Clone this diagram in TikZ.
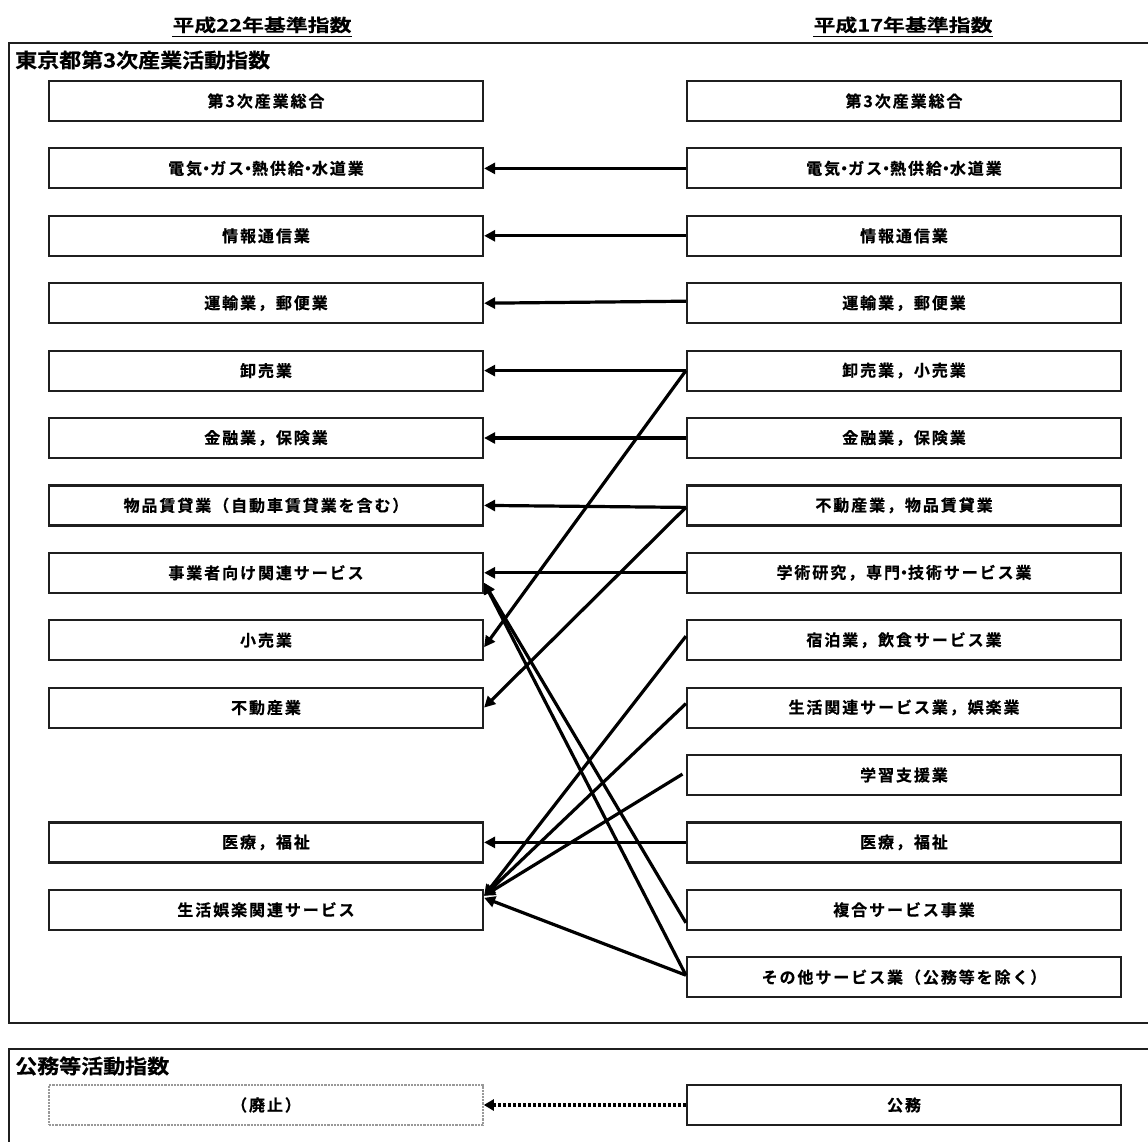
\documentclass[tikz,border=0pt]{standalone}
\usepackage{fontspec}
\usetikzlibrary{arrows.meta}
\newfontfamily\jpl{Noto Sans CJK JP Bold}[LetterSpace=12, FakeBold=0.5]
\newfontfamily\jpt{Noto Sans CJK JP Bold}[FakeStretch=1.1, FakeBold=0.5]
\newfontfamily\jph{Noto Sans CJK JP Bold}[FakeStretch=1.25, FakeBold=0.4]
\newcommand\nakaten{{\addfontfeatures{RawFeature=+palt}・}}
\begin{document}
\begin{tikzpicture}[x=1pt,y=-1pt,
  box/.style={draw=black!88, line width=2.2pt, minimum width=434pt, minimum height=40pt, inner sep=0pt,
    font=\jpl\fontsize{16}{18}\selectfont},
  gonebox/.style={box, draw=gray!80, densely dotted, line width=1.6pt},
  conn/.style={line width=3.2pt, -{Triangle[length=11pt,width=11pt]}},
  dotconn/.style={line width=4pt, dash pattern=on 2.6pt off 2.4pt, -{Triangle[length=10pt,width=11pt]}},
  frame/.style={line width=2.5pt, draw=black!88},
  title/.style={anchor=west, inner sep=0pt, font=\jpt\fontsize{20}{22}\selectfont},
  head/.style={inner sep=0pt, font=\jph\fontsize{17.5}{19}\selectfont}]
\useasboundingbox (0,0) rectangle (1148,1142);
\clip (0,0) rectangle (1148,1142);

% headers
\node[head] (h22) at (262,25) {平成22年基準指数};
\node[head] (h17) at (903,25) {平成17年基準指数};
\draw[line width=1.3pt] ([yshift=-3pt]h22.south west) -- ([yshift=-3pt]h22.south east);
\draw[line width=1.3pt] ([yshift=-3pt]h17.south west) -- ([yshift=-3pt]h17.south east);

% frames
\draw[frame] (1170,43) -| (9,1023) -- (1170,1023);
\draw[frame] (1170,1049) -| (9,1170);
\node[title] (t1) at (15,60) {東京都第3次産業活動指数};
\node[title] (t2) at (15,1066) {公務等活動指数};

% left column (H22)
\node[box] (l0)  at (266,101.0) {第3次産業総合};
\node[box] (l1)  at (266,168.4) {電気\nakaten ガス\nakaten 熱供給\nakaten 水道業};
\node[box] (l2)  at (266,235.8) {情報通信業};
\node[box] (l3)  at (266,303.2) {運輸業，郵便業};
\node[box] (l4)  at (266,370.6) {卸売業};
\node[box] (l5)  at (266,438.0) {金融業，保険業};
\node[box] (l6)  at (266,505.4) {物品賃貸業（自動車賃貸業を含む）};
\node[box] (l7)  at (266,572.8) {事業者向け関連サービス};
\node[box] (l8)  at (266,640.2) {小売業};
\node[box] (l9)  at (266,707.6) {不動産業};
\node[box] (l11) at (266,842.4) {医療，福祉};
\node[box] (l12) at (266,909.8) {生活娯楽関連サービス};
\node[gonebox] (l14) at (266,1105) {（廃止）};

% right column (H17)
\node[box] (r0)  at (904,101.0) {第3次産業総合};
\node[box] (r1)  at (904,168.4) {電気\nakaten ガス\nakaten 熱供給\nakaten 水道業};
\node[box] (r2)  at (904,235.8) {情報通信業};
\node[box] (r3)  at (904,303.2) {運輸業，郵便業};
\node[box] (r4)  at (904,370.6) {卸売業，小売業};
\node[box] (r5)  at (904,438.0) {金融業，保険業};
\node[box] (r6)  at (904,505.4) {不動産業，物品賃貸業};
\node[box] (r7)  at (904,572.8) {学術研究，専門\nakaten 技術サービス業};
\node[box] (r8)  at (904,640.2) {宿泊業，飲食サービス業};
\node[box] (r9)  at (904,707.6) {生活関連サービス業，娯楽業};
\node[box] (r10) at (904,775.0) {学習支援業};
\node[box] (r11) at (904,842.4) {医療，福祉};
\node[box] (r12) at (904,909.8) {複合サービス事業};
\node[box] (r13) at (904,977.2) {その他サービス業（公務等を除く）};
\node[box] (r14) at (904,1105) {公務};

% connectors
\draw[conn] (r1.west) -- (l1.east);
\draw[conn] (r2.west) -- (l2.east);
\draw[conn] ([yshift=2pt]r3.west) -- (l3.east);
\draw[conn] (r4.west) -- (l4.east);
\draw[conn] (r4.west) -- ([yshift=-7pt]l8.east);
\draw[conn] (r5.west) -- (l5.east);
\draw[conn] ([yshift=-2pt]r6.west) -- (l6.east);
\draw[conn] ([yshift=-2pt]r6.west) -- (l9.east);
\draw[conn] (r7.west) -- (l7.east);
\draw[conn] ([yshift=4pt]r8.west) -- ([yshift=14pt]l12.east);
\draw[conn] ([yshift=4pt]r9.west) -- ([yshift=14pt]l12.east);
\draw[conn, shorten <=4pt] ([yshift=3pt]r10.west) -- ([yshift=14pt]l12.east);
\draw[conn] (r11.west) -- (l11.east);
\draw[conn] ([yshift=-13pt]r12.west) -- ([yshift=-10pt]l7.east);
\draw[conn] ([yshift=2pt]r13.west) -- ([yshift=-10pt]l7.east);
\draw[conn] ([yshift=2pt]r13.west) -- ([yshift=12pt]l12.east);
\draw[dotconn] (r14.west) -- (l14.east);
\end{tikzpicture}
\end{document}
